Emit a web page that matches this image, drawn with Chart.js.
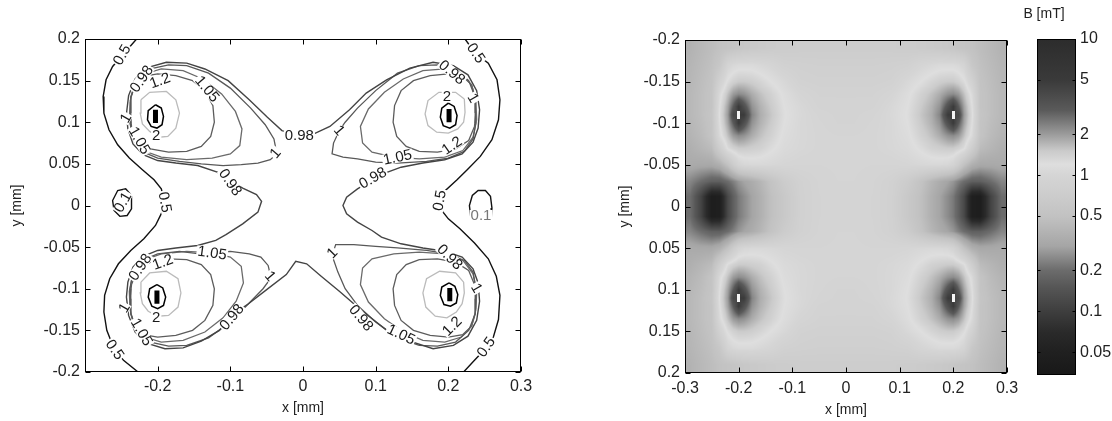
<!DOCTYPE html>
<html>
<head>
<meta charset="utf-8">
<script src="https://cdn.jsdelivr.net/npm/chart.js@4.4.1/dist/chart.umd.min.js"></script>
<style>
  html, body { margin: 0; padding: 0; background: #fff; }
  #wrap { position: relative; width: 1112px; height: 421px; overflow: hidden; background: #fff; }
  canvas { position: absolute; top: 0; }
  #left { left: 0; }
  #right { left: 560px; }
  #bar { left: 1020px; }
</style>
</head>
<body>
<div id="wrap">
  <canvas id="left" width="560" height="421"></canvas>
  <canvas id="right" width="470" height="421"></canvas>
  <canvas id="bar" width="92" height="421"></canvas>
</div>
<script>
// ---- tick values --------------------------------------------------------
const leftXTicks = [-0.2, -0.1, 0, 0.1, 0.2, 0.3];
const yTicks = [-0.2, -0.15, -0.1, -0.05, 0, 0.05, 0.1, 0.15, 0.2];
const rightXTicks = [-0.3, -0.2, -0.1, 0, 0.1, 0.2, 0.3];
const barTicks = [0.05, 0.1, 0.2, 0.5, 1, 2, 5, 10];

// ---- colour map (B in mT -> grey level) ----------------------------------
const cmapB = [0.034, 0.05, 0.07, 0.1, 0.15, 0.2, 0.3, 0.5, 0.7, 1, 1.2, 1.5, 2, 3, 5, 10];
const cmapGrey = [24, 32, 42, 62, 86, 108, 165, 194, 204, 213, 222, 203, 155, 90, 58, 44];

// ---- contour lines (left panel), x/y in mm -----------------------------
const c05L = [[-0.229,0.2],[-0.248,0.181],[-0.262,0.167],[-0.271,0.151],[-0.275,0.131],[-0.274,0.111],[-0.267,0.091],[-0.255,0.073],[-0.239,0.057],[-0.221,0.043],[-0.205,0.031],[-0.195,0.02],[-0.191,0.006],[-0.194,-0.008],[-0.203,-0.024],[-0.219,-0.04],[-0.237,-0.054],[-0.254,-0.07],[-0.266,-0.088],[-0.273,-0.108],[-0.274,-0.128],[-0.27,-0.15],[-0.261,-0.17],[-0.247,-0.186],[-0.227,-0.2]];
const c05R = [[0.223,0.2],[0.237,0.183],[0.255,0.171],[0.267,0.151],[0.271,0.127],[0.269,0.103],[0.26,0.079],[0.244,0.059],[0.226,0.043],[0.212,0.031],[0.196,0.018],[0.189,0.005],[0.192,-0.007],[0.2,-0.016],[0.216,-0.028],[0.236,-0.045],[0.255,-0.064],[0.266,-0.085],[0.271,-0.108],[0.269,-0.137],[0.262,-0.158],[0.251,-0.172],[0.236,-0.186],[0.221,-0.2]];
const c01L = [[-0.236,0.012],[-0.244,0.02],[-0.255,0.018],[-0.262,0.006],[-0.26,-0.006],[-0.252,-0.013],[-0.242,-0.012],[-0.236,-0.004],[-0.236,0.012]];
const c01R = [[0.231,-0.015],[0.229,0.0],[0.233,0.012],[0.241,0.018],[0.251,0.018],[0.258,0.011],[0.26,-0.003],[0.259,-0.016]];

const c098 = [[-0.106,-0.035],[-0.083,-0.022],[-0.062,-0.008],[-0.057,0.005],[-0.064,0.013],[-0.083,0.021],[-0.101,0.03],[-0.118,0.04],[-0.145,0.048],[-0.175,0.051],[-0.2,0.054],[-0.22,0.061],[-0.234,0.074],[-0.241,0.092],[-0.243,0.11],[-0.24,0.132],[-0.231,0.152],[-0.213,0.166],[-0.188,0.172],[-0.16,0.171],[-0.135,0.164],[-0.103,0.15],[-0.074,0.127],[-0.049,0.106],[-0.029,0.09],[-0.007,0.085],[0.015,0.086],[0.037,0.095],[0.064,0.115],[0.087,0.135],[0.115,0.151],[0.147,0.165],[0.179,0.172],[0.207,0.168],[0.227,0.157],[0.239,0.138],[0.243,0.115],[0.241,0.093],[0.234,0.076],[0.219,0.062],[0.195,0.055],[0.165,0.051],[0.135,0.046],[0.11,0.038],[0.094,0.03],[0.075,0.02],[0.06,0.01],[0.055,0.0],[0.06,-0.01],[0.075,-0.02],[0.095,-0.03],[0.108,-0.038],[0.135,-0.046],[0.165,-0.051],[0.195,-0.055],[0.219,-0.062],[0.234,-0.076],[0.241,-0.093],[0.243,-0.115],[0.239,-0.138],[0.227,-0.157],[0.207,-0.168],[0.179,-0.172],[0.147,-0.163],[0.114,-0.149],[0.079,-0.125],[0.05,-0.103],[0.025,-0.085],[0.005,-0.07],[-0.01,-0.067],[-0.023,-0.083],[-0.05,-0.101],[-0.075,-0.118],[-0.097,-0.131],[-0.115,-0.15],[-0.14,-0.163],[-0.165,-0.171],[-0.19,-0.172],[-0.213,-0.166],[-0.231,-0.152],[-0.24,-0.132],[-0.243,-0.11],[-0.241,-0.092],[-0.234,-0.074],[-0.22,-0.061],[-0.2,-0.054],[-0.175,-0.051],[-0.145,-0.048],[-0.12,-0.042],[-0.106,-0.035]];

const c1TL = [[-0.238,0.1],[-0.237,0.13],[-0.228,0.15],[-0.21,0.164],[-0.185,0.169],[-0.16,0.168],[-0.13,0.159],[-0.1,0.141],[-0.072,0.117],[-0.052,0.097],[-0.04,0.08],[-0.036,0.062],[-0.045,0.055],[-0.062,0.051],[-0.085,0.049],[-0.11,0.048],[-0.14,0.05],[-0.17,0.053],[-0.2,0.057],[-0.222,0.065],[-0.234,0.08],[-0.238,0.1]];
const c1TR = [[0.238,0.1],[0.237,0.13],[0.228,0.15],[0.21,0.164],[0.185,0.169],[0.16,0.168],[0.13,0.159],[0.1,0.138],[0.075,0.117],[0.058,0.1],[0.05,0.09],[0.042,0.075],[0.04,0.062],[0.055,0.058],[0.075,0.056],[0.1,0.052],[0.13,0.051],[0.17,0.053],[0.2,0.057],[0.222,0.065],[0.234,0.08],[0.238,0.1]];
const c1BL = [[-0.238,-0.1],[-0.237,-0.13],[-0.228,-0.15],[-0.21,-0.164],[-0.185,-0.169],[-0.16,-0.168],[-0.13,-0.159],[-0.1,-0.14],[-0.075,-0.118],[-0.055,-0.1],[-0.044,-0.087],[-0.048,-0.072],[-0.058,-0.062],[-0.074,-0.058],[-0.1,-0.055],[-0.142,-0.058],[-0.17,-0.055],[-0.2,-0.058],[-0.222,-0.066],[-0.234,-0.08],[-0.238,-0.1]];
const c1BR = [[0.238,-0.1],[0.237,-0.13],[0.228,-0.15],[0.21,-0.164],[0.185,-0.169],[0.16,-0.168],[0.13,-0.159],[0.1,-0.14],[0.075,-0.12],[0.058,-0.1],[0.048,-0.08],[0.04,-0.06],[0.045,-0.047],[0.07,-0.047],[0.1,-0.049],[0.13,-0.051],[0.17,-0.054],[0.2,-0.058],[0.222,-0.066],[0.234,-0.08],[0.238,-0.1]];

const c105TL = [[-0.238,0.125],[-0.232,0.145],[-0.218,0.158],[-0.195,0.164],[-0.165,0.162],[-0.138,0.152],[-0.112,0.134],[-0.093,0.113],[-0.084,0.092],[-0.087,0.072],[-0.1,0.062],[-0.125,0.057],[-0.16,0.055],[-0.195,0.058],[-0.22,0.066],[-0.234,0.082],[-0.239,0.103],[-0.238,0.125]];
const c105TR = [[0.238,0.125],[0.232,0.145],[0.218,0.158],[0.195,0.164],[0.165,0.162],[0.138,0.152],[0.112,0.136],[0.09,0.116],[0.079,0.095],[0.082,0.075],[0.095,0.064],[0.125,0.058],[0.16,0.056],[0.195,0.058],[0.22,0.066],[0.234,0.082],[0.239,0.103],[0.238,0.125]];
const c105BL = [[-0.238,-0.125],[-0.232,-0.145],[-0.218,-0.158],[-0.195,-0.164],[-0.165,-0.162],[-0.135,-0.152],[-0.11,-0.135],[-0.092,-0.115],[-0.082,-0.093],[-0.085,-0.073],[-0.1,-0.062],[-0.125,-0.057],[-0.16,-0.055],[-0.195,-0.058],[-0.22,-0.066],[-0.234,-0.082],[-0.239,-0.103],[-0.238,-0.125]];
const c105BR = [[0.238,-0.125],[0.232,-0.145],[0.218,-0.158],[0.195,-0.164],[0.165,-0.162],[0.138,-0.152],[0.112,-0.136],[0.09,-0.116],[0.079,-0.095],[0.082,-0.075],[0.095,-0.064],[0.125,-0.058],[0.16,-0.056],[0.195,-0.058],[0.22,-0.066],[0.234,-0.082],[0.239,-0.103],[0.238,-0.125]];

const c12TL = [[-0.237,0.13],[-0.232,0.145],[-0.22,0.155],[-0.2,0.158],[-0.175,0.156],[-0.152,0.15],[-0.135,0.138],[-0.124,0.12],[-0.122,0.1],[-0.127,0.083],[-0.14,0.071],[-0.16,0.065],[-0.185,0.064],[-0.21,0.068],[-0.228,0.078],[-0.236,0.095],[-0.238,0.112],[-0.237,0.13]];
const c12TR = [[0.237,0.13],[0.232,0.145],[0.22,0.155],[0.2,0.158],[0.175,0.156],[0.152,0.15],[0.135,0.138],[0.126,0.12],[0.124,0.1],[0.129,0.083],[0.142,0.071],[0.16,0.065],[0.185,0.064],[0.21,0.068],[0.228,0.078],[0.236,0.095],[0.238,0.112],[0.237,0.13]];
const c12BL = [[-0.237,-0.13],[-0.232,-0.145],[-0.22,-0.155],[-0.2,-0.158],[-0.175,-0.156],[-0.152,-0.15],[-0.135,-0.138],[-0.124,-0.12],[-0.122,-0.1],[-0.127,-0.083],[-0.14,-0.071],[-0.16,-0.065],[-0.185,-0.064],[-0.21,-0.068],[-0.228,-0.078],[-0.236,-0.095],[-0.238,-0.112],[-0.237,-0.13]];
const c12BR = [[0.237,-0.13],[0.232,-0.145],[0.22,-0.155],[0.2,-0.158],[0.175,-0.156],[0.152,-0.15],[0.135,-0.138],[0.126,-0.12],[0.124,-0.1],[0.129,-0.083],[0.142,-0.071],[0.16,-0.065],[0.185,-0.064],[0.21,-0.068],[0.228,-0.078],[0.236,-0.095],[0.238,-0.112],[0.237,-0.13]];

const c2TL = [[-0.223,0.127],[-0.211,0.136],[-0.188,0.137],[-0.175,0.127],[-0.17,0.111],[-0.175,0.093],[-0.186,0.083],[-0.198,0.082],[-0.211,0.089],[-0.221,0.098],[-0.224,0.111],[-0.223,0.127]];
const c2TR = [[0.222,0.128],[0.21,0.136],[0.187,0.136],[0.172,0.126],[0.168,0.11],[0.172,0.096],[0.184,0.088],[0.2,0.087],[0.213,0.092],[0.221,0.1],[0.223,0.112],[0.222,0.128]];
const c2BL = [[-0.223,-0.092],[-0.211,-0.081],[-0.188,-0.079],[-0.172,-0.088],[-0.168,-0.105],[-0.172,-0.122],[-0.185,-0.132],[-0.2,-0.133],[-0.213,-0.127],[-0.221,-0.118],[-0.224,-0.105],[-0.223,-0.092]];
const c2BR = [[0.221,-0.092],[0.21,-0.081],[0.188,-0.079],[0.17,-0.088],[0.165,-0.105],[0.169,-0.122],[0.182,-0.133],[0.198,-0.135],[0.211,-0.128],[0.219,-0.118],[0.222,-0.105],[0.221,-0.092]];

const cInTL = [[-0.203,0.121],[-0.195,0.117],[-0.192,0.107],[-0.194,0.097],[-0.201,0.093],[-0.209,0.095],[-0.214,0.103],[-0.213,0.114],[-0.203,0.121]];
const cInTR = [[0.2,0.123],[0.208,0.119],[0.212,0.108],[0.21,0.097],[0.202,0.093],[0.193,0.096],[0.189,0.106],[0.191,0.117],[0.2,0.123]];
const cInBL = [[-0.201,-0.095],[-0.193,-0.099],[-0.189,-0.11],[-0.192,-0.12],[-0.2,-0.124],[-0.208,-0.121],[-0.213,-0.11],[-0.211,-0.1],[-0.201,-0.095]];
const cInBR = [[0.201,-0.093],[0.209,-0.097],[0.213,-0.107],[0.211,-0.117],[0.203,-0.121],[0.194,-0.119],[0.189,-0.108],[0.191,-0.098],[0.201,-0.093]];
const coreTL = [[-0.203,0.115],[-0.203,0.099]];
const coreTR = [[0.201,0.116],[0.201,0.1]];
const coreBL = [[-0.201,-0.102],[-0.201,-0.118]];
const coreBR = [[0.202,-0.099],[0.202,-0.115]];

// label text, x, y, angle (deg)
const contourLabels = [
  ['0.5', -0.249, 0.181, -60], ['0.5', -0.19, 0.004, 80], ['0.5', -0.259, -0.173, 55],
  ['0.5', 0.238, 0.183, 55], ['0.5', 0.188, 0.006, -80], ['0.5', 0.252, -0.17, -55],
  ['0.98', -0.005, 0.084, 0], ['0.98', -0.1, 0.028, 55], ['0.98', 0.096, 0.033, -30],
  ['0.98', -0.098, -0.134, -50], ['0.98', 0.08, -0.135, 50],
  ['0.98', -0.222, 0.152, -55], ['0.98', -0.224, -0.074, -55], ['0.98', 0.205, 0.16, 40], ['0.98', 0.202, -0.062, 45],
  ['1.05', -0.132, 0.14, 50], ['1.05', 0.13, 0.058, -12], ['1.05', -0.125, -0.057, 8], ['1.05', 0.135, -0.155, 25],
  ['1.05', -0.225, 0.078, 60], ['1.05', -0.222, -0.152, 60],
  ['1.2', -0.197, 0.15, -20], ['1.2', 0.205, 0.072, -35], ['1.2', -0.193, -0.068, -20], ['1.2', 0.205, -0.145, -45],
  ['2', -0.202, 0.084, 0], ['2', 0.198, 0.131, 0], ['2', -0.202, -0.134, 0],
  ['1', -0.038, 0.063, -50], ['1', 0.05, 0.09, 50], ['1', -0.045, -0.085, 50], ['1', 0.04, -0.057, -45],
  ['1', -0.244, 0.105, -60], ['1', -0.246, -0.123, -60], ['1', 0.234, 0.129, 60], ['1', 0.239, -0.099, 60],
  ['0.1', -0.248, 0.004, -60], ['0.1', 0.245, -0.012, 0]
];

// ---- B field map (right panel), grid nodes in mm, values in mT ---------
const heatX = [-0.29,-0.27,-0.25,-0.235,-0.22,-0.21,-0.2,-0.19,-0.175,-0.16,-0.14,-0.115,-0.085,-0.05,-0.015,0.015,0.05,0.085,0.115,0.14,0.16,0.175,0.19,0.2,0.21,0.22,0.235,0.25,0.27,0.29];
const heatY = [-0.19,-0.17,-0.15,-0.135,-0.12,-0.11,-0.1,-0.085,-0.07,-0.05,-0.03,-0.012,0.012,0.03,0.05,0.07,0.085,0.1,0.11,0.12,0.135,0.15,0.17,0.19];
const fieldB = [
  [0.38,0.42,0.46,0.5,0.53,0.55,0.58,0.6,0.63,0.65,0.68,0.7,0.72,0.73,0.73, 0.73,0.73,0.72,0.7,0.68,0.65,0.63,0.6,0.58,0.55,0.53,0.5,0.46,0.42,0.38],
  [0.4,0.44,0.49,0.6,0.95,1.05,1.1,1.1,1.1,1.05,0.98,0.85,0.82,0.8,0.8, 0.8,0.8,0.82,0.85,0.98,1.05,1.1,1.1,1.1,1.05,0.95,0.6,0.49,0.44,0.4],
  [0.41,0.46,0.52,0.85,1.25,1.4,1.5,1.5,1.45,1.35,1.2,1.05,0.88,0.85,0.85, 0.85,0.85,0.88,1.05,1.2,1.35,1.45,1.5,1.5,1.4,1.25,0.85,0.52,0.46,0.41],
  [0.42,0.47,0.54,1.1,1.6,2.0,2.2,2.1,1.8,1.6,1.4,1.15,0.98,0.9,0.9, 0.9,0.9,0.98,1.15,1.4,1.6,1.8,2.1,2.2,2.0,1.6,1.1,0.54,0.47,0.42],
  [0.42,0.47,0.54,1.2,1.9,3.0,5.0,3.5,2.1,1.75,1.5,1.2,1.05,0.93,0.92, 0.92,0.93,1.05,1.2,1.5,1.75,2.1,3.5,5.0,3.0,1.9,1.2,0.54,0.47,0.42],
  [0.42,0.47,0.56,1.25,2.0,4.0,null,5.0,2.3,1.8,1.55,1.22,1.06,0.97,0.93, 0.93,0.97,1.06,1.22,1.55,1.8,2.3,5.0,null,4.0,2.0,1.25,0.56,0.47,0.42],
  [0.41,0.46,0.54,1.2,1.9,3.0,5.0,3.5,2.1,1.75,1.5,1.2,1.05,0.99,0.94, 0.94,0.99,1.05,1.2,1.5,1.75,2.1,3.5,5.0,3.0,1.9,1.2,0.54,0.46,0.41],
  [0.39,0.44,0.53,1.1,1.6,2.0,2.2,2.1,1.8,1.6,1.4,1.15,1.05,1.0,0.98, 0.98,1.0,1.05,1.15,1.4,1.6,1.8,2.1,2.2,2.0,1.6,1.1,0.53,0.44,0.39],
  [0.36,0.4,0.45,0.75,1.25,1.4,1.5,1.5,1.45,1.4,1.25,1.1,1.04,1.0,0.99, 0.99,1.0,1.04,1.1,1.25,1.4,1.45,1.5,1.5,1.4,1.25,0.75,0.45,0.4,0.36],
  [0.33,0.32,0.32,0.36,0.5,0.7,0.93,1.02,1.06,1.06,1.04,1.0,0.98,0.98,0.99, 0.99,0.98,0.98,1.0,1.04,1.06,1.06,1.02,0.93,0.7,0.5,0.36,0.32,0.32,0.33],
  [0.24,0.2,0.17,0.17,0.2,0.23,0.27,0.3,0.34,0.4,0.52,0.7,0.86,0.95,0.98, 0.98,0.95,0.86,0.7,0.52,0.4,0.34,0.3,0.27,0.23,0.2,0.17,0.17,0.2,0.24],
  [0.2,0.11,0.045,0.048,0.12,0.17,0.22,0.25,0.3,0.36,0.48,0.62,0.85,0.94,0.97, 0.97,0.94,0.85,0.62,0.48,0.36,0.3,0.25,0.22,0.17,0.12,0.048,0.045,0.11,0.2],
  [0.2,0.11,0.045,0.048,0.12,0.17,0.22,0.25,0.3,0.36,0.48,0.62,0.85,0.94,0.97, 0.97,0.94,0.85,0.62,0.48,0.36,0.3,0.25,0.22,0.17,0.12,0.048,0.045,0.11,0.2],
  [0.24,0.2,0.17,0.17,0.2,0.23,0.27,0.3,0.34,0.4,0.52,0.7,0.86,0.95,0.98, 0.98,0.95,0.86,0.7,0.52,0.4,0.34,0.3,0.27,0.23,0.2,0.17,0.17,0.2,0.24],
  [0.33,0.32,0.32,0.36,0.5,0.7,0.93,1.02,1.06,1.06,1.04,1.0,0.98,0.98,0.99, 0.99,0.98,0.98,1.0,1.04,1.06,1.06,1.02,0.93,0.7,0.5,0.36,0.32,0.32,0.33],
  [0.36,0.4,0.45,0.75,1.25,1.4,1.5,1.5,1.45,1.4,1.25,1.1,1.04,1.0,0.99, 0.99,1.0,1.04,1.1,1.25,1.4,1.45,1.5,1.5,1.4,1.25,0.75,0.45,0.4,0.36],
  [0.39,0.44,0.53,1.1,1.6,2.0,2.2,2.1,1.8,1.6,1.4,1.15,1.05,1.0,0.98, 0.98,1.0,1.05,1.15,1.4,1.6,1.8,2.1,2.2,2.0,1.6,1.1,0.53,0.44,0.39],
  [0.41,0.46,0.54,1.2,1.9,3.0,5.0,3.5,2.1,1.75,1.5,1.2,1.05,0.99,0.94, 0.94,0.99,1.05,1.2,1.5,1.75,2.1,3.5,5.0,3.0,1.9,1.2,0.54,0.46,0.41],
  [0.42,0.47,0.56,1.25,2.0,4.0,null,5.0,2.3,1.8,1.55,1.22,1.06,0.97,0.93, 0.93,0.97,1.06,1.22,1.55,1.8,2.3,5.0,null,4.0,2.0,1.25,0.56,0.47,0.42],
  [0.42,0.47,0.54,1.2,1.9,3.0,5.0,3.5,2.1,1.75,1.5,1.2,1.05,0.93,0.92, 0.92,0.93,1.05,1.2,1.5,1.75,2.1,3.5,5.0,3.0,1.9,1.2,0.54,0.47,0.42],
  [0.42,0.47,0.54,1.1,1.6,2.0,2.2,2.1,1.8,1.6,1.4,1.15,0.98,0.9,0.9, 0.9,0.9,0.98,1.15,1.4,1.6,1.8,2.1,2.2,2.0,1.6,1.1,0.54,0.47,0.42],
  [0.41,0.46,0.52,0.85,1.25,1.4,1.5,1.5,1.45,1.35,1.2,1.05,0.88,0.85,0.85, 0.85,0.85,0.88,1.05,1.2,1.35,1.45,1.5,1.5,1.4,1.25,0.85,0.52,0.46,0.41],
  [0.4,0.44,0.49,0.6,0.95,1.05,1.1,1.1,1.1,1.05,0.98,0.85,0.82,0.8,0.8, 0.8,0.8,0.82,0.85,0.98,1.05,1.1,1.1,1.1,1.05,0.95,0.6,0.49,0.44,0.4],
  [0.38,0.42,0.46,0.5,0.53,0.55,0.58,0.6,0.63,0.65,0.68,0.7,0.72,0.73,0.73, 0.73,0.73,0.72,0.7,0.68,0.65,0.63,0.6,0.58,0.55,0.53,0.5,0.46,0.42,0.38]
];

// ------------------------------------------------------------------------
Chart.defaults.font.family = '"Liberation Sans", Arial, sans-serif';
Chart.defaults.font.size = 16;
Chart.defaults.color = '#222';
Chart.defaults.animation = false;

const cmapLog = cmapB.map(b => Math.log10(b));
function greyForLog(lb) {
  if (lb <= cmapLog[0]) return cmapGrey[0];
  for (let i = 0; i < cmapLog.length - 1; i++) {
    if (lb <= cmapLog[i + 1]) {
      const t = (lb - cmapLog[i]) / (cmapLog[i + 1] - cmapLog[i]);
      return Math.round(cmapGrey[i] + t * (cmapGrey[i + 1] - cmapGrey[i]));
    }
  }
  return cmapGrey[cmapGrey.length - 1];
}
const rgb = g => `rgb(${g},${g},${g})`;
const toXY = pts => pts.map(p => ({ x: p[0], y: p[1] }));
const fixedTicks = vals => scale => { scale.ticks = vals.map(v => ({ value: v })); };

// box + inward ticks on all four sides (matlab style)
const boxTicks = {
  id: 'boxTicks',
  afterDraw(chart, args, opts) {
    const { ctx, chartArea: a, scales } = chart;
    const len = opts.len || 5;
    ctx.save();
    ctx.strokeStyle = '#000';
    ctx.lineWidth = 1;
    const L = Math.round(a.left) + 0.5, T = Math.round(a.top) + 0.5;
    const R = Math.round(a.right) - 0.5, B = Math.round(a.bottom) - 0.5;
    ctx.strokeRect(L, T, R - L, B - T);
    ctx.beginPath();
    (opts.x || []).forEach(v => {
      const p = Math.round(scales.x.getPixelForValue(v)) + 0.5;
      ctx.moveTo(p, B); ctx.lineTo(p, B - len);
      ctx.moveTo(p, T); ctx.lineTo(p, T + len);
    });
    (opts.y || []).forEach(v => {
      const p = Math.round(scales.y.getPixelForValue(v)) + 0.5;
      ctx.moveTo(L, p); ctx.lineTo(L + len, p);
      ctx.moveTo(R, p); ctx.lineTo(R - len, p);
    });
    ctx.stroke();
    ctx.restore();
  }
};

// inline contour labels
const contourText = {
  id: 'contourText',
  afterDatasetsDraw(chart) {
    const { ctx, scales } = chart;
    ctx.save();
    ctx.font = '15px "Liberation Sans", Arial, sans-serif';
    ctx.textAlign = 'center';
    ctx.textBaseline = 'middle';
    contourLabels.forEach(([txt, x, y, ang]) => {
      const px = scales.x.getPixelForValue(x), py = scales.y.getPixelForValue(y);
      const w = ctx.measureText(txt).width;
      ctx.save();
      ctx.translate(px, py);
      ctx.rotate(ang * Math.PI / 180);
      ctx.fillStyle = '#fff';
      ctx.fillRect(-w / 2 - 1, -5.5, w + 2, 11);
      ctx.fillStyle = txt === '0.1' && x > 0 ? '#777' : '#1a1a1a';
      ctx.fillText(txt, 0, 0.5);
      ctx.restore();
    });
    ctx.restore();
  }
};

// field map: values at grid nodes, shaded smoothly between nodes
const fieldMap = {
  id: 'fieldMap',
  beforeDatasetsDraw(chart) {
    const { ctx, chartArea: a, scales } = chart;
    const x0 = Math.round(a.left), y0 = Math.round(a.top);
    const w = Math.round(a.right) - x0, h = Math.round(a.bottom) - y0;
    const img = ctx.createImageData(w, h);
    const lg = fieldB.map(r => r.map(v => (v === null ? null : Math.log10(v))));
    const locate = (arr, v) => {
      if (v <= arr[0]) return [0, 0];
      const n = arr.length - 1;
      if (v >= arr[n]) return [n - 1, 1];
      let i = 0;
      while (arr[i + 1] < v) i++;
      return [i, (v - arr[i]) / (arr[i + 1] - arr[i])];
    };
    const cols = [];
    for (let px = 0; px < w; px++) cols.push(locate(heatX, scales.x.getValueForPixel(x0 + px + 0.5)));
    for (let py = 0; py < h; py++) {
      const [i, ty] = locate(heatY, scales.y.getValueForPixel(y0 + py + 0.5));
      for (let px = 0; px < w; px++) {
        const [j, tx] = cols[px];
        const ni = ty < 0.5 ? i : i + 1, nj = tx < 0.5 ? j : j + 1;
        const near = Math.abs(tx - (nj - j)) < 0.28 && Math.abs(ty - (ni - i)) < 0.45;
        let g = 245;
        if (!(lg[ni][nj] === null && near)) {
          const c = [[lg[i][j], (1 - tx) * (1 - ty)], [lg[i][j + 1], tx * (1 - ty)],
                     [lg[i + 1][j], (1 - tx) * ty], [lg[i + 1][j + 1], tx * ty]];
          let s = 0, wsum = 0;
          c.forEach(([v, wt]) => { if (v !== null) { s += v * wt; wsum += wt; } });
          g = greyForLog(s / wsum);
        }
        const k = (py * w + px) * 4;
        img.data[k] = img.data[k + 1] = img.data[k + 2] = g;
        img.data[k + 3] = 255;
      }
    }
    ctx.putImageData(img, x0, y0);
  }
};

// colour bar
const colourBar = {
  id: 'colourBar',
  beforeDatasetsDraw(chart) {
    const { ctx, chartArea: a, scales } = chart;
    const g = ctx.createLinearGradient(0, a.top, 0, a.bottom);
    cmapB.forEach((b, i) => {
      const f = (scales.y.getPixelForValue(b) - a.top) / (a.bottom - a.top);
      g.addColorStop(Math.min(1, Math.max(0, f)), rgb(cmapGrey[i]));
    });
    ctx.save();
    ctx.fillStyle = g;
    ctx.fillRect(a.left, a.top, a.right - a.left, a.bottom - a.top);
    ctx.fillStyle = '#222';
    ctx.font = '14px "Liberation Sans", Arial, sans-serif';
    ctx.textAlign = 'center';
    ctx.textBaseline = 'middle';
    ctx.fillText('B [mT]', 24, 14);
    ctx.restore();
  }
};

// ---- left: contour plot --------------------------------------------------
const lineSet = (pts, color, width) => ({
  data: toXY(pts), showLine: true, borderColor: color, borderWidth: width,
  pointRadius: 0, fill: false, tension: 0
});
const contourSets = [
  lineSet(c05L, '#111', 1.4), lineSet(c05R, '#111', 1.4),
  lineSet(c01L, '#111', 1.4), lineSet(c01R, '#111', 1.4),
  lineSet(c098, '#444', 1.4),
  lineSet(c1TL, '#585858', 1.3), lineSet(c1TR, '#585858', 1.3), lineSet(c1BL, '#585858', 1.3), lineSet(c1BR, '#585858', 1.3),
  lineSet(c105TL, '#6a6a6a', 1.3), lineSet(c105TR, '#6a6a6a', 1.3), lineSet(c105BL, '#6a6a6a', 1.3), lineSet(c105BR, '#6a6a6a', 1.3),
  lineSet(c12TL, '#5c5c5c', 1.3), lineSet(c12TR, '#5c5c5c', 1.3), lineSet(c12BL, '#5c5c5c', 1.3), lineSet(c12BR, '#5c5c5c', 1.3),
  lineSet(c2TL, '#bbbbbb', 1.3), lineSet(c2TR, '#bbbbbb', 1.3), lineSet(c2BL, '#bbbbbb', 1.3), lineSet(c2BR, '#bbbbbb', 1.3),
  lineSet(cInTL, '#000', 1.5), lineSet(cInTR, '#000', 1.5), lineSet(cInBL, '#000', 1.5), lineSet(cInBR, '#000', 1.5),
  lineSet(coreTL, '#000', 5), lineSet(coreTR, '#000', 5), lineSet(coreBL, '#000', 5), lineSet(coreBR, '#000', 5)
];

new Chart(document.getElementById('left'), {
  type: 'scatter',
  data: { datasets: contourSets },
  options: {
    responsive: false,
    layout: { padding: { left: 0, top: 39, right: 39, bottom: 0 } },
    plugins: { legend: { display: false }, tooltip: { enabled: false },
      boxTicks: { x: leftXTicks, y: yTicks, len: 5 } },
    scales: {
      x: {
        type: 'linear', min: -0.3, max: 0.3,
        afterBuildTicks: fixedTicks(leftXTicks),
        afterFit: s => { s.height = 49; },
        grid: { display: false, drawTicks: false }, border: { display: false },
        ticks: { padding: 5, autoSkip: false, maxRotation: 0, callback: v => String(v) },
        title: { display: true, text: 'x [mm]', font: { size: 14 }, padding: { top: 0, bottom: 4 } }
      },
      y: {
        type: 'linear', min: -0.2, max: 0.2,
        afterBuildTicks: fixedTicks(yTicks),
        afterFit: s => { s.width = 85; },
        grid: { display: false, drawTicks: false }, border: { display: false },
        ticks: { padding: 5, autoSkip: false, callback: v => String(v) },
        title: { display: true, text: 'y [mm]', font: { size: 14 }, padding: { top: 9, bottom: 0 } }
      }
    }
  },
  plugins: [contourText, boxTicks]
});

// ---- right: field map ---------------------------------------------------
new Chart(document.getElementById('right'), {
  type: 'scatter',
  data: { datasets: [] },
  options: {
    responsive: false,
    layout: { padding: { left: 0, top: 40, right: 23, bottom: 0 } },
    plugins: { legend: { display: false }, tooltip: { enabled: false },
      boxTicks: { x: rightXTicks, y: yTicks, len: 5 } },
    scales: {
      x: {
        type: 'linear', min: -0.3, max: 0.3,
        afterBuildTicks: fixedTicks(rightXTicks),
        afterFit: s => { s.height = 48; },
        grid: { display: false, drawTicks: false }, border: { display: false },
        ticks: { padding: 6, autoSkip: false, maxRotation: 0, callback: v => String(v) },
        title: { display: true, text: 'x [mm]', font: { size: 14 }, padding: { top: 0, bottom: 2 } }
      },
      y: {
        type: 'linear', min: -0.2, max: 0.2, reverse: true,
        afterBuildTicks: fixedTicks(yTicks),
        afterFit: s => { s.width = 125; },
        grid: { display: false, drawTicks: false }, border: { display: false },
        ticks: { padding: 5, autoSkip: false, callback: v => String(v) },
        title: { display: true, text: 'y [mm]', font: { size: 14 }, padding: { top: 57, bottom: 0 } }
      }
    }
  },
  plugins: [fieldMap, boxTicks]
});

// ---- colour bar ----------------------------------------------------------
new Chart(document.getElementById('bar'), {
  type: 'scatter',
  data: { datasets: [] },
  options: {
    responsive: false,
    layout: { padding: { left: 17, top: 39, right: 0, bottom: 46 } },
    plugins: { legend: { display: false }, tooltip: { enabled: false },
      boxTicks: { y: barTicks, len: 3 } },
    scales: {
      x: { display: false, min: 0, max: 1 },
      y: {
        type: 'logarithmic', position: 'right', min: 0.034, max: 10,
        afterBuildTicks: fixedTicks(barTicks),
        afterFit: s => { s.width = 36; },
        grid: { display: false, drawTicks: false }, border: { display: false },
        ticks: { padding: 4, autoSkip: false, callback: v => String(v) }
      }
    }
  },
  plugins: [colourBar, boxTicks]
});
</script>
</body>
</html>
